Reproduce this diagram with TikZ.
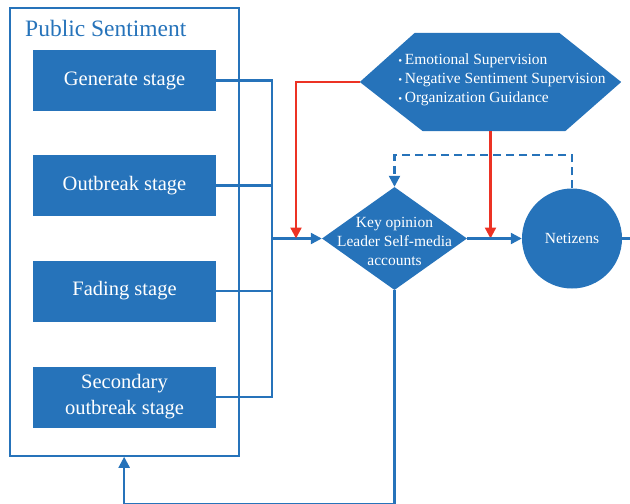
\documentclass[tikz,border=0pt]{standalone}
\usepackage{fontspec}
\setmainfont{Liberation Serif}
\usetikzlibrary{arrows.meta,shapes.geometric,calc}
\definecolor{pblue}{RGB}{38,115,186}
\definecolor{pred}{RGB}{236,50,36}
\newcommand{\bul}{{\fontsize{11}{11}\selectfont\textbullet}\,}
\begin{document}
\begin{tikzpicture}[x=1pt,y=-1pt,
  conn/.style={draw=pblue,line width=2.3pt},
  rconn/.style={draw=pred,line width=2.3pt},
  tip/.style={-{Triangle[length=11pt,width=11pt]}},
  stagebox/.style={fill=pblue,text=white,minimum width=183pt,minimum height=61pt,inner sep=0pt,align=center,font=\fontsize{20.5}{26}\selectfont},
  btext/.style={text=white,align=center}]
\useasboundingbox (0,0) rectangle (630,504);
\node[draw=pblue,line width=2.3pt,minimum width=229pt,minimum height=448pt,inner sep=0pt,anchor=north west] (ps) at (8.5,6.5) {};
\node[text=pblue,anchor=west,font=\fontsize{23.5}{26}\selectfont,inner sep=0pt] (title) at (25,28) {Public Sentiment};
\node[stagebox] (gen) at (124.5,80.5) {Generate stage};
\node[stagebox] (out) at (124.5,185.5) {Outbreak stage};
\node[stagebox] (fad) at (124.5,291) {Fading stage};
\node[stagebox] (sec) at (124.5,397) {Secondary\\outbreak stage};
% hexagon
\node[minimum width=261pt,minimum height=98pt,inner sep=0pt] (hex) at (490.5,82) {};
\fill[pblue] (hex.west) -- ($(hex.north west)+(55,0)$) -- ($(hex.north east)+(-62,0)$) -- (hex.east) -- ($(hex.south east)+(-56,0)$) -- ($(hex.south west)+(63,0)$) -- cycle;
\node[btext,align=left,font=\fontsize{15.5}{19}\selectfont,inner sep=0pt] (hext) at (502,80) {\bul Emotional Supervision\\\bul Negative Sentiment Supervision\\\bul Organization Guidance};
% diamond
\node[diamond,fill=pblue,minimum width=145pt,minimum height=103pt,inner sep=0pt] (kol) at (394.5,238.5) {};
\node[btext,font=\fontsize{15.5}{19}\selectfont,inner sep=0pt] (kolt) at (394.5,241) {Key opinion\\Leader Self-media\\accounts};
% circle
\node[circle,fill=pblue,minimum size=100pt,inner sep=0pt,text=white,font=\fontsize{15.5}{17}\selectfont] (net) at (572,238.5) {Netizens};
% bus
\coordinate (b1) at (272,80.5);
\coordinate (b4) at (272,397);
\draw[conn] (gen.east) -- (b1) -- (b4) -- (sec.east);
\draw[conn] (out.east) -- (out.east -| b1);
\draw[conn] (fad.east) -- (fad.east -| b1);
\draw[conn,tip] (b1 |- kol.west) -- (kol.west);
% red
\coordinate (r1) at (296,82);
\draw[rconn,tip] (hex.west) -- (r1) -- (r1 |- kol.west);
\coordinate (r2) at (490.5,238.5);
\draw[rconn,tip] (r2 |- hex.south) -- (r2);
% kol -> net
\draw[conn,tip] (kol.east) -- (net.west);
\draw[conn,dash pattern=on 8pt off 5pt,tip] (net.north) -- ++(0,-33) -| (kol.north);
\coordinate (rend) at (630,238.5);
\draw[conn] (net.east) -- (rend);
\coordinate (bot) at (394.5,504);
\draw[conn,tip] (kol.south) -- (bot) -| (ps.south);
\end{tikzpicture}
\end{document}
